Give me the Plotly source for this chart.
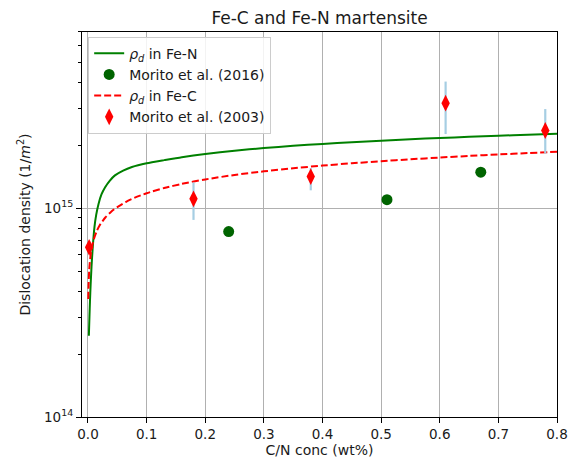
import plotly.graph_objects as go

# Model curves: dislocation density vs. interstitial concentration (wt%)
conc_fen = [0.0015, 0.0025, 0.0034, 0.0045, 0.006, 0.008, 0.011, 0.014, 0.018,
            0.023, 0.029, 0.037, 0.046, 0.06, 0.075, 0.1, 0.13, 0.16, 0.2, 0.25,
            0.3, 0.35, 0.4, 0.45, 0.5, 0.55, 0.6, 0.65, 0.7, 0.75, 0.8]
rho_fen = [0.245, 0.302, 0.359, 0.429, 0.524, 0.644, 0.811, 0.930, 1.050,
           1.165, 1.259, 1.355, 1.439, 1.517, 1.578, 1.644, 1.702, 1.759, 1.823,
           1.889, 1.945, 1.994, 2.036, 2.075, 2.110, 2.143, 2.173, 2.201, 2.227,
           2.252, 2.275]  # x 1e15

conc_fec = [0.0005, 0.001, 0.002, 0.003, 0.005, 0.0075, 0.01, 0.015, 0.02, 0.03,
            0.04, 0.05, 0.065, 0.08, 0.1, 0.13, 0.16, 0.2, 0.25, 0.3, 0.35, 0.4,
            0.45, 0.5, 0.55, 0.6, 0.65, 0.7, 0.75, 0.8]
rho_fec = [0.368, 0.428, 0.500, 0.546, 0.611, 0.668, 0.711, 0.778, 0.829, 0.906,
           0.966, 1.014, 1.075, 1.125, 1.181, 1.251, 1.310, 1.376, 1.445, 1.504,
           1.556, 1.603, 1.644, 1.683, 1.718, 1.751, 1.783, 1.812, 1.840, 1.866]  # x 1e15

# Measurements
morito2016_x = [0.24, 0.51, 0.67]
morito2016_y = [0.774, 1.10, 1.49]  # x 1e15

morito2003_x = [0.002, 0.18, 0.38, 0.61, 0.78]
morito2003_y = [0.65, 1.11, 1.42, 3.19, 2.36]  # x 1e15
morito2003_err_hi = [0.0, 0.22, 0.14, 0.86, 0.63]
morito2003_err_lo = [0.0, 0.23, 0.20, 0.92, 0.53]

# y-axis decade labels
y_tick_vals = [1e14, 1e15]
y_tick_text = ["10<sup>14</sup>", "10<sup>15</sup>"]

E = 1e15
FONT = "DejaVu Sans"
TXT = "#1a1a1a"

fig = go.Figure()
fig.add_trace(go.Scatter(
    x=conc_fen, y=[v * E for v in rho_fen], mode="lines",
    line=dict(color="green", width=2, shape="spline", smoothing=0.6),
    name="<i>ρ<sub>d</sub></i> in Fe-N"))
fig.add_trace(go.Scatter(
    x=morito2016_x, y=[v * E for v in morito2016_y], mode="markers",
    marker=dict(color="#006400", size=11, symbol="circle"),
    name="Morito et al. (2016)"))
fig.add_trace(go.Scatter(
    x=conc_fec, y=[v * E for v in rho_fec], mode="lines",
    line=dict(color="red", width=2, dash="7px,3px", shape="spline", smoothing=0.6),
    name="<i>ρ<sub>d</sub></i> in Fe-C"))
fig.add_trace(go.Scatter(
    x=morito2003_x, y=[v * E for v in morito2003_y], mode="markers",
    marker=dict(color="red", size=12, symbol="diamond-tall"),
    error_y=dict(type="data", symmetric=False,
                 array=[v * E for v in morito2003_err_hi],
                 arrayminus=[v * E for v in morito2003_err_lo],
                 color="#a6cee3", thickness=2.2, width=0),
    name="Morito et al. (2003)"))

axis_common = dict(
    showline=True, linecolor="black", linewidth=1.2, mirror=True,
    ticks="outside", ticklen=5, tickcolor="black", tickwidth=1,
    showgrid=True, gridcolor="#b0b0b0", gridwidth=1, zeroline=False,
    tickfont=dict(family=FONT, size=13.5, color=TXT), automargin=False,
)

# log-axis minor tick positions (2..9 within each decade)
minor_ticks = [m * 10 ** d for d in (14, 15) for m in range(2, 10)]

fig.update_layout(
    width=577, height=464,
    margin=dict(l=82, r=20, t=32, b=47),
    paper_bgcolor="white", plot_bgcolor="white",
    font=dict(family=FONT, color=TXT),
    title=dict(text="Fe-C and Fe-N martensite", x=0.5, xref="paper",
               xanchor="center", y=1 - 18 / 464, yref="container",
               yanchor="middle", font=dict(family=FONT, size=17, color=TXT)),
    legend=dict(x=0.013, y=0.988, xanchor="left", yanchor="top",
                bgcolor="rgba(255,255,255,0.85)", bordercolor="#cccccc",
                borderwidth=1, font=dict(family=FONT, size=14, color=TXT),
                itemwidth=30, tracegroupgap=0),
    showlegend=True,
)
fig.update_xaxes(
    range=[-0.0102, 0.8], dtick=0.1, tickformat=".1f",
    title=dict(text="C/N conc (wt%)", font=dict(family=FONT, size=14, color=TXT),
               standoff=3),
    **axis_common)
fig.update_yaxes(
    type="log", range=[14, 15.845], tickmode="array",
    tickvals=y_tick_vals, ticktext=y_tick_text,
    title=dict(text="Dislocation density (1/<i>m</i><sup>2</sup>)",
               font=dict(family=FONT, size=14, color=TXT), standoff=10),
    minor=dict(tickmode="array", tickvals=minor_ticks, ticks="outside",
               ticklen=3, tickcolor="black", showgrid=False),
    **axis_common)

fig.write_html("out.html")
